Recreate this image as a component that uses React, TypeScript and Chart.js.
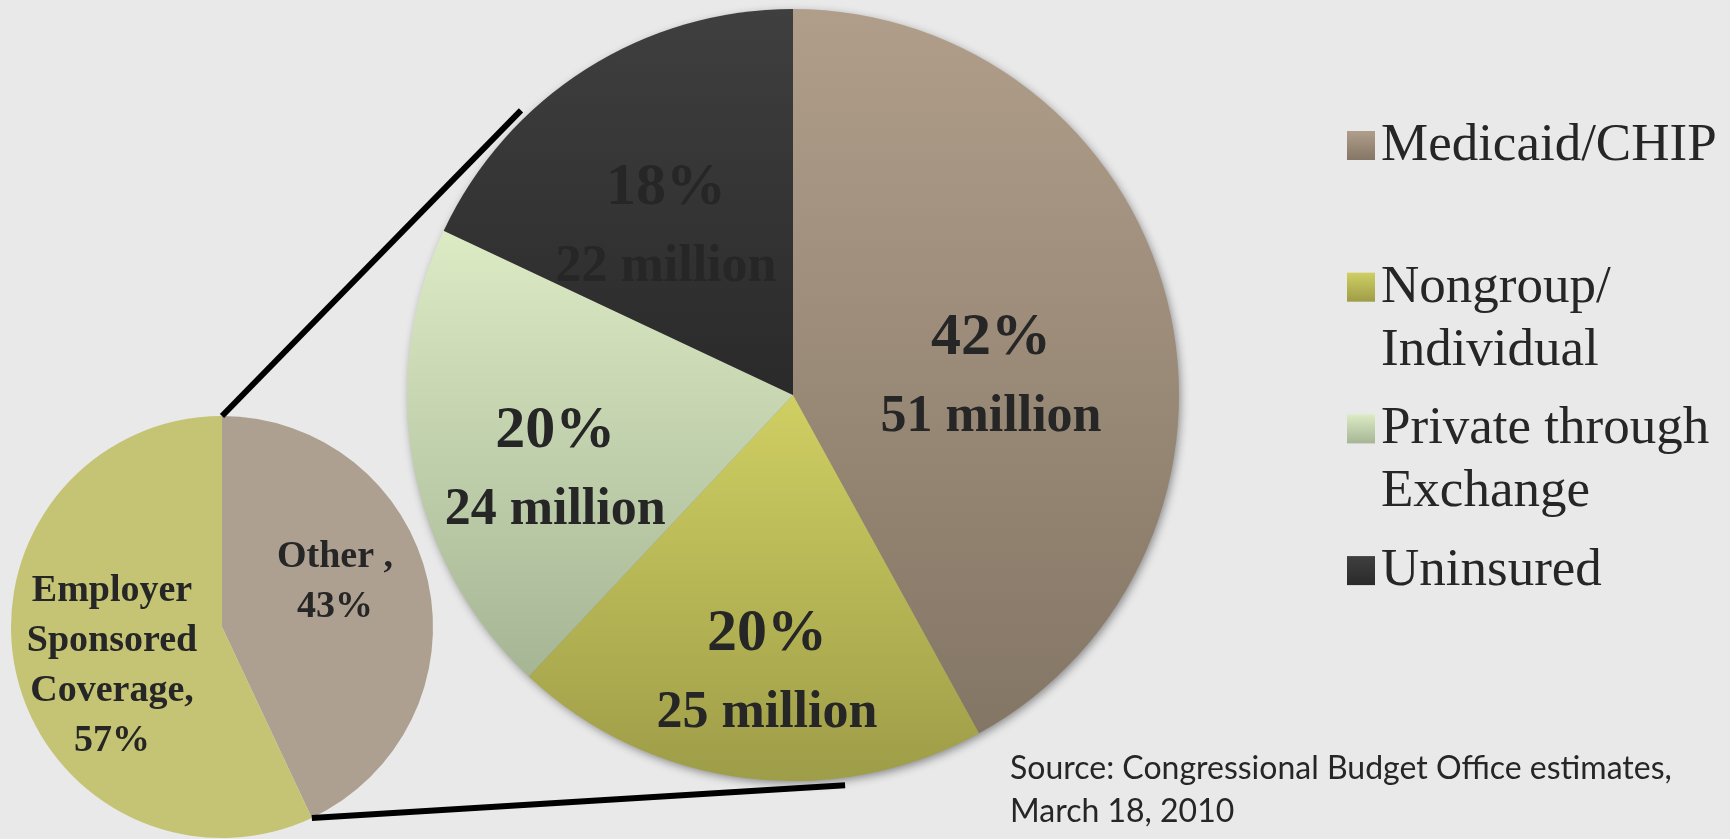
import React, { useEffect, useRef } from "react";
import { Chart, registerables } from "chart.js";

Chart.register(...registerables);

// ---------- data ----------
const categories = ["Medicaid/CHIP", "Nongroup/\nIndividual", "Private through\nExchange", "Uninsured"];
const shares = [42, 20, 20, 18];
const millions = [51, 25, 24, 22];

const baseCategories = ["Other ,", "Employer\nSponsored\nCoverage,"];
const baseShares = [43, 57];

const sourceLines = ["Source: Congressional Budget Office estimates,", "March 18, 2010"];

// ---------- styles ----------
const gradientTops = ["#B09E8A", "#CFCF63", "#DCEBC4", "#3F3F3F"];
const gradientBottoms = ["#847665", "#9E9D48", "#A6B594", "#2A2A2A"];
const baseColors = ["#AEA090", "#C4C474"];
const BG = "#E9E9E9";
const INK = "#262626";

// ---------- layout ----------
const W = 1730;
const H = 839;
const BIG = { cx: 793, cy: 395, r: 386 };
const SMALL = { cx: 222, cy: 627, r: 211 };
// label anchor: angle shift from slice middle (deg), radius fraction
const bigLabelShift = [7.2, -1.7, -5.2, -3.6];
const bigLabelRadius = [0.517, 0.705, 0.641, 0.56];
const smallLabelShift = [-10, -6];
const smallLabelRadius = [0.58, 0.55];
// connector targets on the big pie (degrees clockwise from top)
const connectorTargets = [316.3, 172.4];

const SERIF = '"Liberation Serif", "Times New Roman", serif';

function padFor(p: { cx: number; cy: number; r: number }) {
  return { left: p.cx - p.r, right: W - (p.cx + p.r), top: p.cy - p.r, bottom: H - (p.cy + p.r) };
}

function sliceGradient(context: any) {
  const chart = context.chart;
  const area = chart.chartArea;
  const i = context.dataIndex;
  if (!area || i === undefined) return gradientTops[i ?? 0];
  const cx = (area.left + area.right) / 2;
  const cy = (area.top + area.bottom) / 2;
  const r = Math.min(area.right - area.left, area.bottom - area.top) / 2;
  const vals: number[] = chart.data.datasets[0].data;
  const total = vals.reduce((a, b) => a + b, 0);
  let a0 = 0;
  for (let k = 0; k < i; k++) a0 += (vals[k] / total) * 360;
  const a1 = a0 + (vals[i] / total) * 360;
  const ys = [cy, cy - r * Math.cos((a0 * Math.PI) / 180), cy - r * Math.cos((a1 * Math.PI) / 180)];
  if (a0 <= 0.0001 || a1 >= 359.999) ys.push(cy - r);
  if (a0 < 180 && a1 > 180) ys.push(cy + r);
  const yTop = Math.min(...ys);
  const yBot = Math.max(...ys);
  const g = chart.ctx.createLinearGradient(0, yTop, 0, Math.max(yBot, yTop + 1));
  g.addColorStop(0, gradientTops[i]);
  g.addColorStop(1, gradientBottoms[i]);
  return g;
}

const bigDecor = {
  id: "bigDecor",
  beforeDatasetsDraw(chart: any) {
    const el = chart.getDatasetMeta(0).data[0];
    if (!el) return;
    const { x, y, outerRadius } = el.getProps(["x", "y", "outerRadius"], true);
    const ctx = chart.ctx;
    ctx.save();
    ctx.shadowColor = "rgba(0,0,0,0.45)";
    ctx.shadowBlur = 10;
    ctx.shadowOffsetX = 2;
    ctx.shadowOffsetY = 3;
    ctx.fillStyle = "#8a8a8a";
    ctx.beginPath();
    ctx.arc(x, y, outerRadius - 1, 0, Math.PI * 2);
    ctx.fill();
    ctx.restore();
  },
  afterDatasetsDraw(chart: any) {
    const ctx = chart.ctx;
    const meta = chart.getDatasetMeta(0);
    ctx.save();
    ctx.fillStyle = INK;
    ctx.textAlign = "center";
    ctx.textBaseline = "alphabetic";
    meta.data.forEach((el: any, i: number) => {
      const { x, y, startAngle, endAngle, outerRadius } = el.getProps(
        ["x", "y", "startAngle", "endAngle", "outerRadius"],
        true
      );
      const mid = (startAngle + endAngle) / 2 + (bigLabelShift[i] * Math.PI) / 180;
      const ax = x + Math.cos(mid) * outerRadius * bigLabelRadius[i];
      const ay = y + Math.sin(mid) * outerRadius * bigLabelRadius[i];
      ctx.font = `bold 60px ${SERIF}`;
      ctx.fillText(`${shares[i]}%`, ax, ay - 16);
      ctx.font = `bold 52px ${SERIF}`;
      ctx.fillText(`${millions[i]} million`, ax, ay + 61);
    });
    ctx.restore();
  },
  afterDraw(chart: any) {
    const ctx = chart.ctx;
    const area = chart.chartArea;
    const sqX = area.right + 168;
    const textX = sqX + 34;
    const firstBaseline = 160;
    const pitch = 141.7;
    const lineH = 63;
    ctx.save();
    ctx.textAlign = "left";
    ctx.textBaseline = "alphabetic";
    ctx.font = `53px ${SERIF}`;
    (chart.data.labels as string[]).forEach((lab, i) => {
      const base = firstBaseline + i * pitch;
      const g = ctx.createLinearGradient(0, base - 29, 0, base);
      g.addColorStop(0, gradientTops[i]);
      g.addColorStop(1, gradientBottoms[i]);
      ctx.fillStyle = g;
      ctx.fillRect(sqX, base - 29, 28, 29);
      ctx.fillStyle = INK;
      lab.split("\n").forEach((line, j) => ctx.fillText(line, textX, base + j * lineH));
    });
    ctx.restore();
  },
};

function makeSmallDecor(getBig: () => any) {
  return {
    id: "smallDecor",
    afterDatasetsDraw(chart: any) {
      const ctx = chart.ctx;
      const meta = chart.getDatasetMeta(0);
      ctx.save();
      ctx.fillStyle = INK;
      ctx.textAlign = "center";
      ctx.textBaseline = "alphabetic";
      ctx.font = `bold 38px ${SERIF}`;
      const lineH = 50;
      meta.data.forEach((el: any, i: number) => {
        const { x, y, startAngle, endAngle, outerRadius } = el.getProps(
          ["x", "y", "startAngle", "endAngle", "outerRadius"],
          true
        );
        const mid = (startAngle + endAngle) / 2 + (smallLabelShift[i] * Math.PI) / 180;
        const ax = x + Math.cos(mid) * outerRadius * smallLabelRadius[i];
        const ay = y + Math.sin(mid) * outerRadius * smallLabelRadius[i];
        const lines = [...(chart.data.labels[i] as string).split("\n"), `${baseShares[i]}%`];
        const first = ay - ((lines.length - 1) * lineH) / 2 + 12;
        lines.forEach((ln, j) => ctx.fillText(ln, ax, first + j * lineH));
      });
      ctx.restore();
    },
    afterDraw(chart: any) {
      const big = getBig();
      if (!big) return;
      const bEl = big.getDatasetMeta(0).data[0];
      const sEl = chart.getDatasetMeta(0).data[0];
      if (!bEl || !sEl) return;
      const b = bEl.getProps(["x", "y", "outerRadius"], true);
      const s = sEl.getProps(["x", "y", "startAngle", "endAngle", "outerRadius"], true);
      const starts = [s.startAngle, s.endAngle];
      const ctx = chart.ctx;
      ctx.save();
      ctx.strokeStyle = "#000000";
      ctx.lineWidth = 6;
      starts.forEach((ang: number, k: number) => {
        const px = s.x + Math.cos(ang) * s.outerRadius;
        const py = s.y + Math.sin(ang) * s.outerRadius;
        const t = ((connectorTargets[k] - 90) * Math.PI) / 180;
        const qx = b.x + Math.cos(t) * b.outerRadius * 1.02;
        const qy = b.y + Math.sin(t) * b.outerRadius * 1.02;
        ctx.beginPath();
        ctx.moveTo(px, py);
        ctx.lineTo(qx, qy);
        ctx.stroke();
      });
      ctx.restore();
    },
  };
}

export default function App() {
  const bigRef = useRef<HTMLCanvasElement | null>(null);
  const smallRef = useRef<HTMLCanvasElement | null>(null);

  useEffect(() => {
    if (!bigRef.current || !smallRef.current) return;
    const big = new Chart(bigRef.current, {
      type: "pie",
      data: {
        labels: categories,
        datasets: [
          {
            data: shares,
            backgroundColor: sliceGradient as any,
            borderWidth: 0,
            hoverOffset: 0,
          },
        ],
      },
      options: {
        responsive: false,
        maintainAspectRatio: false,
        animation: false,
        events: [],
        layout: { padding: padFor(BIG) },
        plugins: { legend: { display: false }, tooltip: { enabled: false } },
      },
      plugins: [bigDecor],
    });
    const small = new Chart(smallRef.current, {
      type: "pie",
      data: {
        labels: baseCategories,
        datasets: [
          {
            data: baseShares,
            backgroundColor: baseColors,
            borderWidth: 0,
            hoverOffset: 0,
          },
        ],
      },
      options: {
        responsive: false,
        maintainAspectRatio: false,
        animation: false,
        events: [],
        layout: { padding: padFor(SMALL) },
        plugins: { legend: { display: false }, tooltip: { enabled: false } },
      },
      plugins: [makeSmallDecor(() => big)],
    });
    return () => {
      small.destroy();
      big.destroy();
    };
  }, []);

  return (
    <div
      style={{
        position: "fixed",
        left: 0,
        top: 0,
        width: W,
        height: H,
        background: BG,
        overflow: "hidden",
      }}
    >
      <canvas ref={bigRef} width={W} height={H} style={{ position: "absolute", left: 0, top: 0 }} />
      <canvas ref={smallRef} width={W} height={H} style={{ position: "absolute", left: 0, top: 0 }} />
      <div
        style={{
          position: "absolute",
          left: 1010,
          top: 745,
          fontFamily: 'Lato, "Open Sans", sans-serif',
          fontSize: 32,
          lineHeight: "43px",
          color: INK,
          whiteSpace: "nowrap",
        }}
      >
        {sourceLines.map((l, i) => (
          <div key={i}>{l}</div>
        ))}
      </div>
    </div>
  );
}
